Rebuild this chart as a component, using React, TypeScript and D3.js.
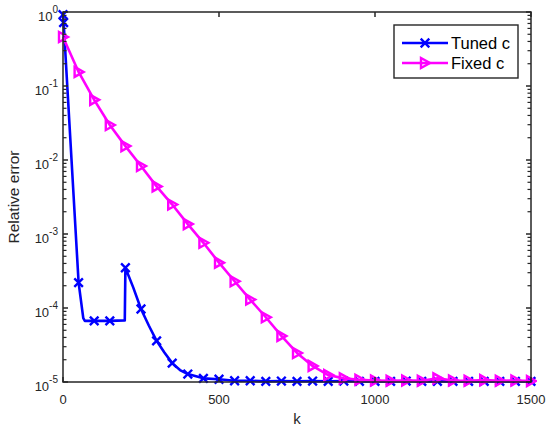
import * as d3 from "d3";

// Tuned c: [k, relative error]
const tunedK = [0, 2, 50, 65, 70, 100, 150, 198, 200, 225, 250, 275, 300, 325, 350, 375, 400, 450, 500, 550, 600, 650, 700, 750, 800, 850, 900, 950, 1000, 1050, 1100, 1150, 1200, 1250, 1300, 1350, 1400, 1450, 1500];
const tunedErr = [0.92, 0.72, 2.2e-4, 7.3e-5, 6.7e-5, 6.7e-5, 6.7e-5, 6.8e-5, 3.5e-4, 1.9e-4, 9.7e-5, 5.8e-5, 3.6e-5, 2.5e-5, 1.8e-5, 1.45e-5, 1.28e-5, 1.12e-5, 1.09e-5, 1.04e-5, 1.04e-5, 1.02e-5, 1.03e-5, 1.02e-5, 1.03e-5, 1.02e-5, 1.03e-5, 1.02e-5, 1.02e-5, 1.02e-5, 1.03e-5, 1.02e-5, 1.02e-5, 1.02e-5, 1.02e-5, 1.02e-5, 1.02e-5, 1.02e-5, 1.02e-5];
const tunedMarkerK = [0, 2, 50, 100, 150, 200, 250, 300, 350, 400, 450, 500, 550, 600, 650, 700, 750, 800, 850, 900, 950, 1000, 1050, 1100, 1150, 1200, 1250, 1300, 1350, 1400, 1450, 1500];

// Fixed c, one point every 50 iterations
const fixedK = [0, 50, 100, 150, 200, 250, 300, 350, 400, 450, 500, 550, 600, 650, 700, 750, 800, 850, 900, 950, 1000, 1050, 1100, 1150, 1200, 1250, 1300, 1350, 1400, 1450, 1500];
const fixedErr = [0.46, 0.155, 0.065, 0.0297, 0.0154, 0.0083, 0.0044, 0.0025, 0.00136, 7.6e-4, 4.1e-4, 2.3e-4, 1.3e-4, 7.5e-5, 4.2e-5, 2.47e-5, 1.65e-5, 1.24e-5, 1.12e-5, 1.07e-5, 1.05e-5, 1.04e-5, 1.05e-5, 1.04e-5, 1.12e-5, 1.05e-5, 1.04e-5, 1.06e-5, 1.04e-5, 1.05e-5, 1.03e-5];

const xTicks = [0, 500, 1000, 1500];
const yExps = [0, -1, -2, -3, -4, -5];
const legendLabels = ["Tuned c", "Fixed c"];

const W = 548;
const H = 427;
const m = { left: 63, right: 531, top: 12, bottom: 382 };
const AX = "#262626";
const BLUE = "#0000ff";
const MAGENTA = "#ff00ff";
const FONT = "'Liberation Sans', Arial, Helvetica, sans-serif";

const x = d3.scaleLinear().domain([0, 1500]).range([m.left, m.right]);
const y = d3.scaleLog().domain([1e-5, 1]).range([m.bottom, m.top]);

type P = { k: number; v: number };
const tuned: P[] = tunedK.map((k, i) => ({ k, v: tunedErr[i] }));
const fixed: P[] = fixedK.map((k, i) => ({ k, v: fixedErr[i] }));

const line = d3
  .line<P>()
  .x((d) => x(d.k))
  .y((d) => y(d.v));

const minorTicks: number[] = [];
for (let e = -5; e < 0; e++) {
  for (let j = 2; j <= 9; j++) minorTicks.push(j * Math.pow(10, e));
}

function Cross({ cx, cy }: { cx: number; cy: number }) {
  const s = 4.3;
  return (
    <path
      d={`M${cx - s},${cy - s}L${cx + s},${cy + s}M${cx - s},${cy + s}L${cx + s},${cy - s}`}
      stroke={BLUE}
      strokeWidth={2.4}
      fill="none"
    />
  );
}

function Tri({ cx, cy }: { cx: number; cy: number }) {
  return (
    <path
      d={`M${cx - 4},${cy - 5}L${cx + 5},${cy}L${cx - 4},${cy + 5}Z`}
      stroke={MAGENTA}
      strokeWidth={2.4}
      fill="none"
      strokeLinejoin="miter"
    />
  );
}

export default function App() {
  const tl = 5;
  return (
    <svg
      width={W}
      height={H}
      style={{ position: "absolute", left: 0, top: 0, background: "#fff" }}
      fontFamily={FONT}
    >
      <rect x={0} y={0} width={W} height={H} fill="#fff" />
      <defs>
        <clipPath id="plot">
          <rect x={m.left - 6} y={m.top - 6} width={m.right - m.left + 12} height={m.bottom - m.top + 12} />
        </clipPath>
      </defs>

      {/* series */}
      <g clipPath="url(#plot)">
        <path d={line(tuned) || ""} fill="none" stroke={BLUE} strokeWidth={2.6} strokeLinejoin="round" />
        {tuned
          .filter((d) => tunedMarkerK.includes(d.k))
          .map((d, i) => (
            <Cross key={i} cx={x(d.k)} cy={y(d.v)} />
          ))}
        <path d={line(fixed) || ""} fill="none" stroke={MAGENTA} strokeWidth={2.6} strokeLinejoin="round" />
        {fixed.map((d, i) => (
          <Tri key={i} cx={x(d.k)} cy={y(d.v)} />
        ))}
      </g>

      {/* axes box */}
      <g stroke={AX} strokeWidth={1.5} fill="none">
        <rect x={m.left} y={m.top} width={m.right - m.left} height={m.bottom - m.top} />
        {xTicks.map((t) => (
          <g key={t}>
            <line x1={x(t)} x2={x(t)} y1={m.bottom} y2={m.bottom - tl} />
            <line x1={x(t)} x2={x(t)} y1={m.top} y2={m.top + tl} />
          </g>
        ))}
        {yExps.map((e) => (
          <g key={e}>
            <line x1={m.left} x2={m.left + tl} y1={y(Math.pow(10, e))} y2={y(Math.pow(10, e))} />
            <line x1={m.right} x2={m.right - tl} y1={y(Math.pow(10, e))} y2={y(Math.pow(10, e))} />
          </g>
        ))}
        {minorTicks.map((v, i) => (
          <g key={i} strokeWidth={1.2}>
            <line x1={m.left} x2={m.left + 3.5} y1={y(v)} y2={y(v)} />
            <line x1={m.right} x2={m.right - 3.5} y1={y(v)} y2={y(v)} />
          </g>
        ))}
      </g>

      {/* tick labels */}
      <g fill={AX} fontSize={13}>
        {xTicks.map((t) => (
          <text key={t} x={x(t)} y={m.bottom + 22} textAnchor="middle">
            {t}
          </text>
        ))}
        {yExps.map((e) => (
          <text key={e} x={m.left - 5} y={y(Math.pow(10, e)) + 9} textAnchor="end">
            10
            <tspan dy={-8} fontSize={10}>
              {e}
            </tspan>
          </text>
        ))}
      </g>

      {/* axis labels */}
      <text x={(m.left + m.right) / 2} y={m.bottom + 42} textAnchor="middle" fontSize={15} fill={AX}>
        k
      </text>
      <text
        transform={`translate(19,${(m.top + m.bottom) / 2}) rotate(-90)`}
        textAnchor="middle"
        fontSize={15.5}
        fill={AX}
      >
        Relative error
      </text>

      {/* legend */}
      <g transform="translate(394,25)">
        <rect x={0} y={0} width={124} height={53} fill="#fff" stroke={AX} strokeWidth={1.4} />
        {legendLabels.map((lab, i) => {
          const ly = 18 + i * 20;
          const color = i === 0 ? BLUE : MAGENTA;
          return (
            <g key={lab}>
              <line x1={8} x2={54} y1={ly} y2={ly} stroke={color} strokeWidth={2.6} />
              {i === 0 ? <Cross cx={31} cy={ly} /> : <Tri cx={31} cy={ly} />}
              <text x={57} y={ly + 6} fontSize={16.5} fill="#000">
                {lab}
              </text>
            </g>
          );
        })}
      </g>
    </svg>
  );
}
